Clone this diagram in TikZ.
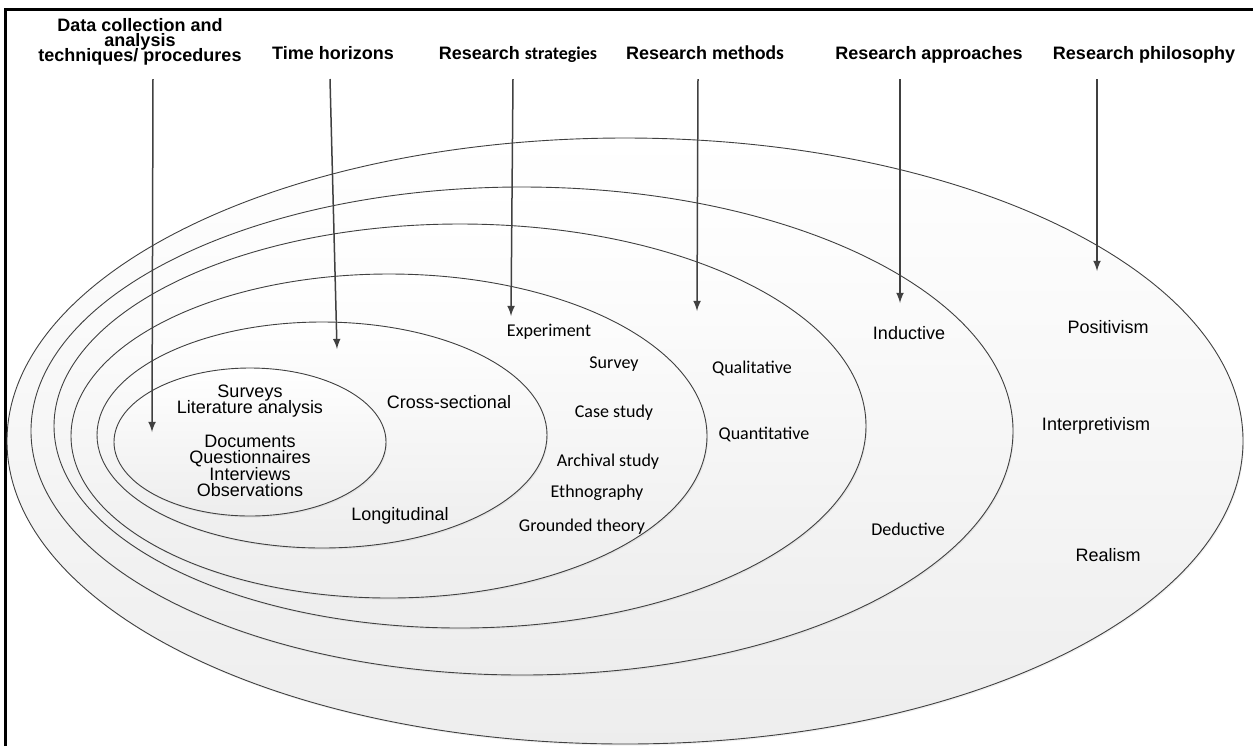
\documentclass[tikz,border=0pt]{standalone}
\usepackage{fontspec}
\setmainfont{Liberation Sans}
\newfontfamily\calfont{Carlito}
\usetikzlibrary{arrows,shadows}
\lineskiplimit=-10pt

\begin{document}
\begin{tikzpicture}[x=0.5pt,y=-0.5pt,
    ring/.style={draw=black!75,line width=0.45pt,top color=white,bottom color=black!7,
      drop shadow={opacity=.12,shadow xshift=.5pt,shadow yshift=-.8pt}},
    arr/.style={-latex,draw=black!75,line width=0.75pt},
    head/.style={font=\bfseries\fontsize{9}{7.6}\selectfont,align=center,inner sep=0pt},
    lbl/.style={font=\fontsize{9}{8.25}\selectfont,align=center,inner sep=0pt},
    cal/.style={font=\calfont\fontsize{9}{10}\selectfont,inner sep=0pt}]
              \useasboundingbox(0,0)rectangle(1253,746);
              \draw[line width=1.5pt](5.5,746)--(5.5,9.5)--(1253,9.5);
              % the six rings, outermost first
              \foreach \cx/\cy/\rx/\ry in {625/441/618/303, 522/431/491/244, 460/426/406/202,
                  389/436/318/162, 322/435/225/113, 250/442/136/74}
                \path[ring](\cx,\cy) ellipse[x radius=\rx*0.5pt,y radius=\ry*0.5pt];
              % layer titles
              \node[head,anchor=south](tdata)at(140,66){Data collection and\\analysis\\techniques/ procedures};
              \node[head,anchor=base](ttime)at(333,59){Time horizons};
              \node[head,anchor=base](tstrat)at(518,59){Research {\calfont strategies}};
              \node[head,anchor=base](tmeth)at(705,59){Research {\calfont\fontsize{9.8}{10}\selectfont methods}};
              \node[head,anchor=base](tappr)at(929,59){Research approaches};
              \node[head,anchor=base](tphil)at(1144,59){Research philosophy};
              % pointers into the rings
              \foreach \n/\xa/\xb/\yb in {1/153/152/432, 2/330/337/349, 3/513/511/316,
                  4/698/697/311, 5/900/900/303, 6/1097/1097/271}{
                \coordinate(s\n)at(\xa,79);
                \coordinate(e\n)at(\xb,\yb);
                \draw[arr](s\n)--(e\n);}
              % techniques
              \node[lbl](survlit)at(250,401){Surveys\\Literature analysis};
              \node[lbl](docs)at(250,466){Documents\\Questionnaires\\Interviews\\Observations};
              % time horizons
              \node[lbl](cross)at(449,402){Cross-sectional};
              \node[lbl](longi)at(400,516){Longitudinal};
              % strategies
              \node[cal](exper)at(549,332){Experiment};
              \node[cal](survey)at(614,364){Survey};
              \node[cal](cases)at(614,413){Case study};
              \node[cal](archiv)at(608,462){Archival study};
              \node[cal](ethno)at(597,493){Ethnography};
              \node[cal](ground)at(582,527){Grounded theory};
              % methods
              \node[cal](qual)at(752,368){Qualitative};
              \node[cal](quant)at(764,434){Quantitative};
              % approaches
              \node[lbl](induc)at(909,333){Inductive};
              \node[cal](deduc)at(908,529){Deductive};
              % philosophy
              \node[lbl](posit)at(1108,327){Positivism};
              \node[lbl](inter)at(1096,426){Interpretivism};
              \node[lbl](real)at(1108,555){Realism};
            \end{tikzpicture}
\end{document}
